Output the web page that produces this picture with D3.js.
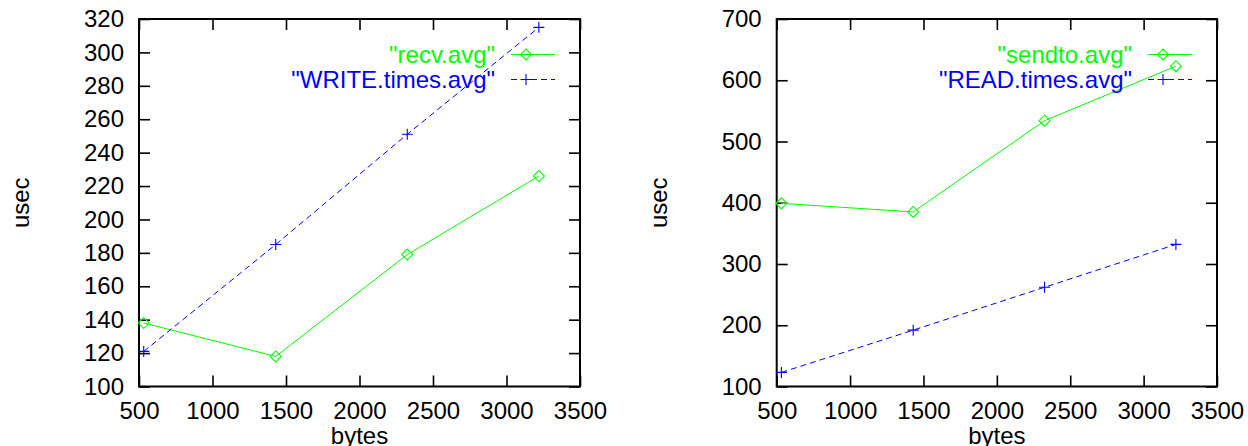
<!DOCTYPE html>
<html>
<head>
<meta charset="utf-8">
<script src="https://cdn.jsdelivr.net/npm/d3@7"></script>
<style>
  body { margin: 0; background: #fff; }
  svg text { font-family: "Liberation Sans", Arial, sans-serif; }
</style>
</head>
<body>
<div id="chart"></div>
<script>
// message sizes (x) shared by both panels
const bytes = [532, 1430, 2325, 3220];

// left panel
const recvAvg = [138, 118, 179, 226];
const writeTimesAvg = [121, 185, 251, 315];

// right panel
const sendtoAvg = [399, 385, 534, 623];
const readTimesAvg = [123, 192, 262, 332];

const xTicks = [500, 1000, 1500, 2000, 2500, 3000, 3500];
const leftYTicks = [100, 120, 140, 160, 180, 200, 220, 240, 260, 280, 300, 320];
const rightYTicks = [100, 200, 300, 400, 500, 600, 700];

const GREEN = "#00ff00", BLUE = "#0000ff";
const width = 1248, height = 446;
const fontSize = 24;

const svg = d3.select("#chart").append("svg")
  .attr("width", width)
  .attr("height", height);

function drawPanel(cfg) {
  const g = svg.append("g");

  const x = d3.scaleLinear().domain([500, 3500]).range([cfg.left, cfg.right]);
  const y = d3.scaleLinear().domain(cfg.yDomain).range([386.5, 19]);

  // inward ticks on all four sides, gnuplot style
  const tick = 11;
  const axes = [
    [d3.axisBottom(x).tickValues(xTicks).tickFormat(d3.format("d")), `translate(0,${y.range()[0]})`, true],
    [d3.axisTop(x).tickValues(xTicks).tickFormat(""), `translate(0,${y.range()[1]})`, false],
    [d3.axisLeft(y).tickValues(cfg.yTicks).tickFormat(d3.format("d")), `translate(${cfg.left},0)`, true],
    [d3.axisRight(y).tickValues(cfg.yTicks).tickFormat(""), `translate(${cfg.right},0)`, false]
  ];
  axes.forEach(([ax, tr]) => {
    const a = g.append("g")
      .attr("transform", tr)
      .call(ax.tickSizeInner(-tick).tickSizeOuter(0).tickPadding(15));
    a.select(".domain").remove();
    a.selectAll(".tick line").attr("stroke", "#000").attr("stroke-width", 1.6);
    a.selectAll(".tick text")
      .attr("fill", "#000")
      .style("font-size", fontSize + "px")
      .style("font-family", "'Liberation Sans', Arial, sans-serif");
  });

  // frame
  g.append("rect")
    .attr("x", cfg.left)
    .attr("y", y.range()[1])
    .attr("width", cfg.right - cfg.left)
    .attr("height", y.range()[0] - y.range()[1])
    .attr("fill", "none")
    .attr("stroke", "#000")
    .attr("stroke-width", 2);

  // axis titles
  g.append("text")
    .attr("x", (cfg.left + cfg.right) / 2)
    .attr("y", 444)
    .attr("text-anchor", "middle")
    .style("font-size", fontSize + "px")
    .text("bytes");

  g.append("text")
    .attr("transform", `translate(${cfg.ylabelX},${(y.range()[0] + y.range()[1]) / 2}) rotate(-90)`)
    .attr("text-anchor", "middle")
    .style("font-size", fontSize + "px")
    .text("usec");

  const line = d3.line().x(d => x(d[0])).y(d => y(d[1]));

  cfg.series.forEach((s, i) => {
    const pts = bytes.map((b, j) => [b, s.values[j]]);

    g.append("path")
      .datum(pts)
      .attr("d", line)
      .attr("fill", "none")
      .attr("stroke", s.color)
      .attr("stroke-width", 1)
      .attr("stroke-dasharray", s.dash ? "6,4" : null);

    g.selectAll(null)
      .data(pts)
      .join("path")
      .attr("transform", d => `translate(${x(d[0])},${y(d[1])})`)
      .attr("d", s.marker === "diamond" ? "M0,-5.5L5.5,0L0,5.5L-5.5,0Z" : "M-5.5,0H5.5M0,-5.5V5.5")
      .attr("fill", "none")
      .attr("stroke", s.color)
      .attr("stroke-width", 1.1);

    // key entry, top right inside the frame
    const ky = 54.5 + i * 25;
    const lineEnd = cfg.right - 25;
    const lineStart = lineEnd - 44;
    g.append("text")
      .attr("x", lineStart - 16)
      .attr("y", ky + 8.5)
      .attr("text-anchor", "end")
      .attr("fill", s.color)
      .style("font-size", fontSize + "px")
      .text(s.name);
    g.append("line")
      .attr("x1", lineStart).attr("x2", lineEnd)
      .attr("y1", ky).attr("y2", ky)
      .attr("stroke", s.color)
      .attr("stroke-width", 1)
      .attr("stroke-dasharray", s.dash ? "6,4" : null);
    g.append("path")
      .attr("transform", `translate(${lineStart + 15},${ky})`)
      .attr("d", s.marker === "diamond" ? "M0,-5.5L5.5,0L0,5.5L-5.5,0Z" : "M-5.5,0H5.5M0,-5.5V5.5")
      .attr("fill", "none")
      .attr("stroke", s.color)
      .attr("stroke-width", 1.1);
  });
}

drawPanel({
  left: 139, right: 580, ylabelX: 29,
  yDomain: [100, 320], yTicks: leftYTicks,
  series: [
    { name: "\"recv.avg\"", values: recvAvg, color: GREEN, marker: "diamond", dash: false },
    { name: "\"WRITE.times.avg\"", values: writeTimesAvg, color: BLUE, marker: "plus", dash: true }
  ]
});

drawPanel({
  left: 776.7, right: 1217, ylabelX: 667,
  yDomain: [100, 700], yTicks: rightYTicks,
  series: [
    { name: "\"sendto.avg\"", values: sendtoAvg, color: GREEN, marker: "diamond", dash: false },
    { name: "\"READ.times.avg\"", values: readTimesAvg, color: BLUE, marker: "plus", dash: true }
  ]
});
</script>
</body>
</html>
